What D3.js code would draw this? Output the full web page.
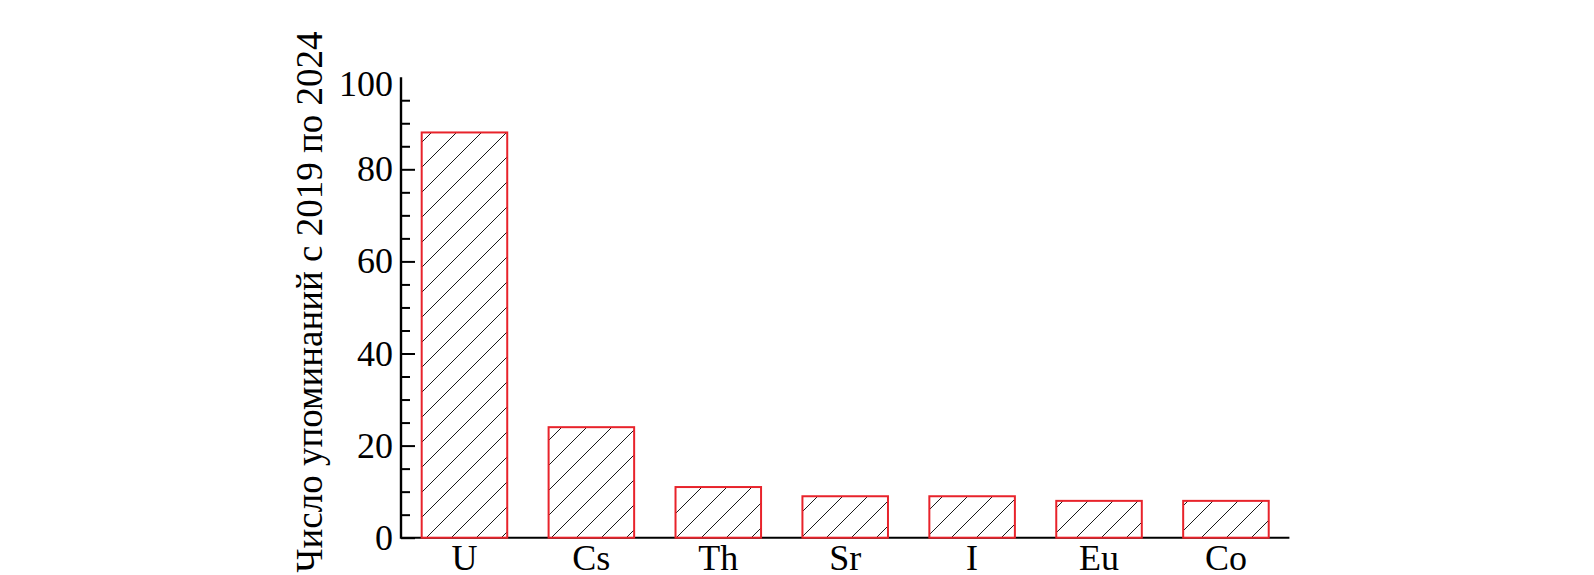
<!DOCTYPE html>
<html>
<head>
<meta charset="utf-8">
<script src="https://cdn.jsdelivr.net/npm/d3@7"></script>
<style>
  html, body { margin: 0; padding: 0; background: #fff; }
  svg { display: block; }
  text { font-family: "Liberation Serif", "DejaVu Serif", serif; fill: #000; }
</style>
</head>
<body>
<svg id="chart" width="1594" height="575"></svg>
<script>
const categories = ["U", "Cs", "Th", "Sr", "I", "Eu", "Co"];
const values = [88, 24, 11, 9, 9, 8, 8];
const yMajorTicks = [0, 20, 40, 60, 80, 100];
const yMinorTicks = [5, 10, 15, 25, 30, 35, 45, 50, 55, 65, 70, 75, 85, 90, 95];
const yTitle = "Число упоминаний с 2019 по 2024";

const FONT = '"Liberation Serif", "DejaVu Serif", serif';
const svg = d3.select("#chart");

const x = d3.scaleBand()
  .domain(categories)
  .range([401, 1289.4])
  .paddingInner(0.326)
  .paddingOuter(0.163);

const y = d3.scaleLinear()
  .domain([0, 100])
  .range([537.7, 77.2]);

// hatch pattern
const defs = svg.append("defs");
const pat = defs.append("pattern")
  .attr("id", "hatch")
  .attr("patternUnits", "userSpaceOnUse")
  .attr("x", 14).attr("y", 0)
  .attr("width", 25).attr("height", 25);
pat.append("rect").attr("width", 25).attr("height", 25).attr("fill", "#fff");
pat.append("path")
  .attr("d", "M0,25 L25,0 M-2,2 L2,-2 M23,27 L27,23")
  .attr("stroke", "#000")
  .attr("stroke-width", 0.9)
  .attr("fill", "none");

// x axis (line + labels)
const xAxis = d3.axisBottom(x).tickSize(0).tickPadding(7);
const gx = svg.append("g")
  .attr("transform", `translate(0,${y(0)})`)
  .call(xAxis);
gx.select(".domain").remove();
gx.selectAll("text")
  .attr("font-family", FONT)
  .style("font-family", FONT)
  .style("font-size", "36px");
svg.append("line")
  .attr("x1", x.range()[0]).attr("x2", x.range()[1])
  .attr("y1", y(0)).attr("y2", y(0))
  .attr("stroke", "#000").attr("stroke-width", 2);

// y axis minor ticks
const gyMinor = svg.append("g")
  .attr("transform", "translate(401,0)")
  .call(d3.axisLeft(y).tickValues(yMinorTicks).tickSizeInner(-9).tickSizeOuter(0).tickFormat(""));
gyMinor.select(".domain").remove();
gyMinor.selectAll("line").attr("stroke", "#000").attr("stroke-width", 2);

// y axis major ticks + labels
const gy = svg.append("g")
  .attr("transform", "translate(401,0)")
  .call(d3.axisLeft(y).tickValues(yMajorTicks).tickSizeInner(-14).tickSizeOuter(0).tickPadding(8));
gy.select(".domain").remove();
gy.selectAll("line").attr("stroke", "#000").attr("stroke-width", 2);
gy.selectAll(".tick").filter(d => d === 100).select("line").remove();
gy.selectAll(".tick").filter(d => d === 100).select("text").attr("dy", "0.5em");
gy.selectAll("text")
  .attr("font-family", FONT)
  .style("font-family", FONT)
  .style("font-size", "36px");
svg.append("line")
  .attr("x1", 401).attr("x2", 401)
  .attr("y1", y(100)).attr("y2", y(0) + 1)
  .attr("stroke", "#000").attr("stroke-width", 2.4);

// bars
svg.append("g").selectAll("rect")
  .data(categories.map((c, i) => ({ c, v: values[i] })))
  .join("rect")
  .attr("x", d => x(d.c))
  .attr("y", d => y(d.v))
  .attr("width", x.bandwidth())
  .attr("height", d => y(0) - y(d.v))
  .attr("fill", "url(#hatch)")
  .attr("stroke", "#e8232b")
  .attr("stroke-width", 2);

// y title
svg.append("text")
  .attr("transform", "translate(322,302) rotate(-90)")
  .attr("text-anchor", "middle")
  .attr("font-family", FONT)
  .style("font-family", FONT)
  .style("font-size", "37px")
  .text(yTitle);
</script>
</body>
</html>
